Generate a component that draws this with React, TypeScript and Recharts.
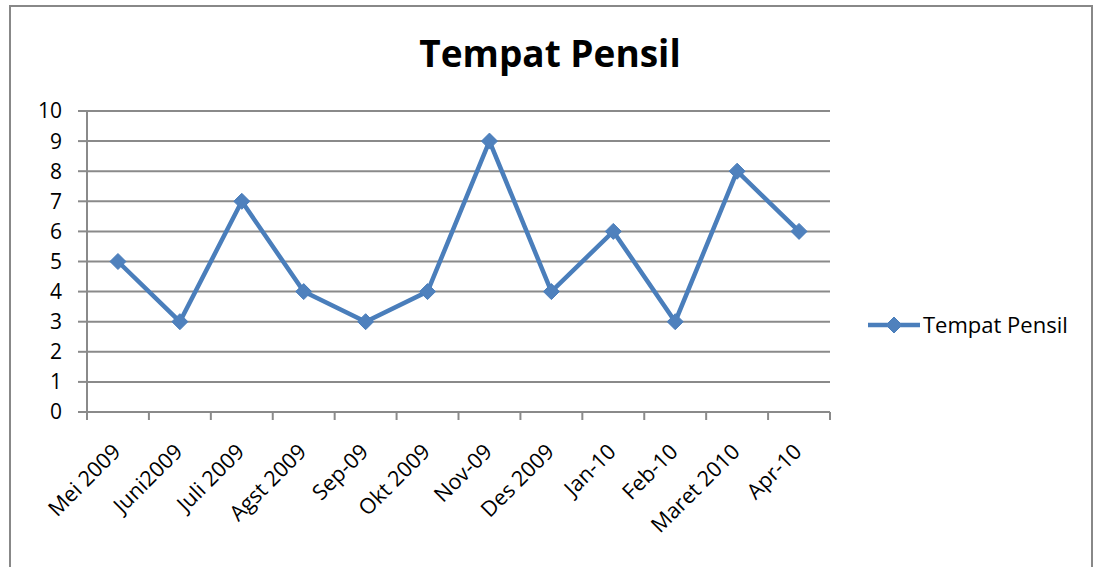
import { LineChart, Line, XAxis, YAxis, CartesianGrid } from "recharts";

const SERIES_NAME = "Tempat Pensil";
const CHART_TITLE = "Tempat Pensil";
const MONTHS = [
  "Mei 2009", "Juni2009", "Juli 2009", "Agst 2009", "Sep-09", "Okt 2009",
  "Nov-09", "Des 2009", "Jan-10", "Feb-10", "Maret 2010", "Apr-10",
];
const VALUES = [5, 3, 7, 4, 3, 4, 9, 4, 6, 3, 8, 6];
const Y_TICKS = [0, 1, 2, 3, 4, 5, 6, 7, 8, 9, 10];

const W = 1094;
const H = 567;
const PLOT_LEFT = 87;
const PLOT_RIGHT = 830;
const PLOT_TOP = 111;
const PLOT_BOTTOM = 412;
const BAND = (PLOT_RIGHT - PLOT_LEFT) / MONTHS.length;

const FONT = "'Open Sans', sans-serif";
const AXIS_GRAY = "#8a8a8a";
const BLUE = "#4a7ebb";

const data = MONTHS.map((m, i) => ({ bulan: m, nilai: VALUES[i] }));

const Diamond = ({ cx, cy, r = 8 }: any) => {
  if (cx == null || cy == null) return null;
  return (
    <path
      d={`M${cx},${cy - r} L${cx + r},${cy} L${cx},${cy + r} L${cx - r},${cy} Z`}
      fill="#4f81bd"
      stroke={BLUE}
      strokeWidth={1}
    />
  );
};

const XTick = ({ x, y, payload, index }: any) => (
  <g>
    <line x1={x - BAND / 2} x2={x - BAND / 2} y1={y} y2={y + 8} stroke={AXIS_GRAY} strokeWidth={2} />
    {index === MONTHS.length - 1 && (
      <line x1={x + BAND / 2} x2={x + BAND / 2} y1={y} y2={y + 8} stroke={AXIS_GRAY} strokeWidth={2} />
    )}
    <text
      transform={`translate(${x + 4},${y + 41}) rotate(-45)`}
      textAnchor="end"
      fontFamily={FONT}
      fontSize={21.5}
      fill="#000"
    >
      {payload.value}
    </text>
  </g>
);

export default function App() {
  return (
    <div
      style={{
        position: "absolute",
        left: 0,
        top: 0,
        width: W,
        height: H,
        overflow: "hidden",
        background: "#fff",
      }}
    >
      <div
        style={{
          position: "absolute",
          left: 9,
          top: 5,
          width: 1080,
          height: 600,
          border: "2px solid #888",
        }}
      />
      <div
        style={{
          position: "absolute",
          left: 0,
          top: 34,
          width: 1100,
          textAlign: "center",
          fontFamily: FONT,
          fontWeight: 700,
          fontSize: 37,
          lineHeight: "37px",
          color: "#000",
        }}
      >
        {CHART_TITLE}
      </div>

      <div style={{ position: "absolute", left: 0, top: 0 }}>
        <LineChart
          width={W}
          height={H}
          data={data}
          margin={{ top: PLOT_TOP, right: W - PLOT_RIGHT, bottom: 0, left: 0 }}
        >
          <CartesianGrid vertical={false} stroke={AXIS_GRAY} strokeWidth={2} />
          <XAxis
            dataKey="bulan"
            interval={0}
            tickSize={0}
            tickMargin={0}
            tickLine={false}
            padding={{ left: BAND / 2, right: BAND / 2 }}
            axisLine={{ stroke: AXIS_GRAY, strokeWidth: 2 }}
            tick={<XTick />}
            height={H - PLOT_BOTTOM}
          />
          <YAxis
            width={PLOT_LEFT}
            domain={[0, 10]}
            ticks={Y_TICKS}
            interval={0}
            tickSize={9}
            tickMargin={16}
            tickLine={{ stroke: AXIS_GRAY, strokeWidth: 2 }}
            axisLine={{ stroke: AXIS_GRAY, strokeWidth: 2 }}
            tick={{ fill: "#000", fontSize: 21, fontFamily: FONT }}
          />
          <Line
            type="linear"
            dataKey="nilai"
            name={SERIES_NAME}
            stroke={BLUE}
            strokeWidth={4.5}
            dot={(p: any) => <Diamond key={`d-${p.index}`} cx={p.cx} cy={p.cy} r={8} />}
            activeDot={false}
            isAnimationActive={false}
          />
        </LineChart>
      </div>

      <div style={{ position: "absolute", left: 866, top: 310 }}>
        <svg width={224} height={30}>
          <line x1={2} x2={54} y1={15} y2={15} stroke={BLUE} strokeWidth={4.5} />
          <Diamond cx={28} cy={15} r={8} />
          <text x={57} y={23} fontFamily={FONT} fontSize={22} fill="#000">
            {SERIES_NAME}
          </text>
        </svg>
      </div>
    </div>
  );
}
